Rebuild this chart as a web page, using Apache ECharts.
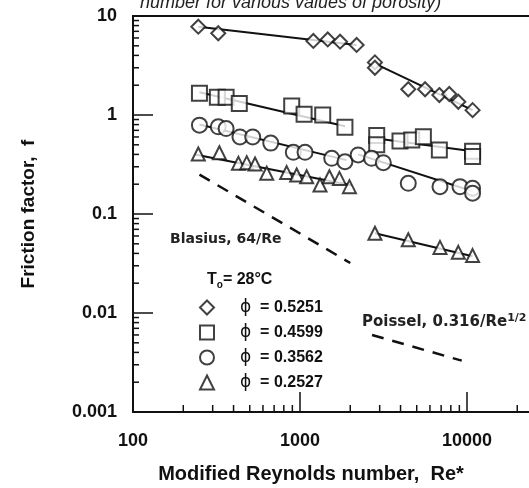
<!DOCTYPE html>
<html>
<head>
<meta charset="utf-8">
<script src="https://cdn.jsdelivr.net/npm/echarts@6/dist/echarts.min.js"></script>
<style>html,body{margin:0;padding:0;background:#fff;}#c{width:529px;height:488px;}</style>
</head>
<body>
<div id="c"></div>
<script>
// ---- tick labels ----
const xTickLabels = ['100', '1000', '10000'];
const yTickLabels = ['0.001', '0.01', '0.1', '1', '10'];
// minor tick multipliers inside each decade
const minorMult = [2, 3, 4, 5, 6, 7, 8, 9];
const xDecades = [100, 1000, 10000];
const yDecades = [0.001, 0.01, 0.1, 1];

// ---- legend / series names ----
const seriesNames = ['ϕ = 0.5251', 'ϕ = 0.4599', 'ϕ = 0.3562', 'ϕ = 0.2527'];

// ---- measured data (Re*, f) ----
const reD1 = [246, 324, 1202, 1466, 1738, 2183];
const fD1  = [7.8, 6.7, 5.6, 5.8, 5.5, 5.1];
const reD2 = [2810, 2810, 4450, 5610, 6830, 7830, 8870, 10800];
const fD2  = [3.4, 3.0, 1.82, 1.82, 1.59, 1.63, 1.36, 1.12];

const reS1 = [250, 320, 361, 433, 892, 1058, 1368, 1858];
const fS1  = [1.66, 1.51, 1.51, 1.31, 1.23, 1.02, 1.0, 0.75];
const reS2 = [2880, 2880, 3970, 4670, 5480, 6830, 10800, 10800];
const fS2  = [0.62, 0.5, 0.546, 0.558, 0.604, 0.443, 0.43, 0.38];

const reC1 = [250, 324, 361, 437, 521, 668, 912, 1072, 1549, 1858];
const fC1  = [0.79, 0.76, 0.73, 0.60, 0.60, 0.52, 0.42, 0.42, 0.365, 0.337];
const reC2 = [2230, 2683, 3155, 4450, 6890, 9080, 10800, 10800];
const fC2  = [0.395, 0.365, 0.33, 0.204, 0.189, 0.189, 0.182, 0.162];

const reT1 = [246, 329, 428, 480, 538, 632, 832, 955, 1096, 1318, 1500, 1722, 1977];
const fT1  = [0.404, 0.416, 0.325, 0.33, 0.32, 0.258, 0.262, 0.248, 0.238, 0.196, 0.238, 0.229, 0.189];
const reT2 = [2810, 4450, 6890, 8870, 10800];
const fT2  = [0.064, 0.055, 0.046, 0.041, 0.038];

// ---- fitted lines (end points) ----
const fitD1 = [[246, 7.8], [2180, 5.1]];
const fitD2 = [[2810, 3.3], [10800, 1.12]];
const fitS1 = [[250, 1.7], [1860, 0.77]];
const fitS2 = [[2880, 0.58], [10800, 0.43]];
const fitC1 = [[250, 0.8], [1900, 0.35]];
const fitC2 = [[2230, 0.40], [10800, 0.17]];
const fitT1 = [[235, 0.40], [2040, 0.195]];
const fitT2 = [[2810, 0.064], [10800, 0.0375]];

// ---- theoretical correlations (end points) ----
const blasiusRe = [250, 2000];
const blasiusF  = [0.25, 0.032];
const poiseRe = [2700, 9300];
const poiseF  = [0.0060, 0.0033];

const zip = (a, b) => a.map((v, i) => [v, b[i]]);

const xMinor = [];
xDecades.forEach(d => minorMult.forEach(m => xMinor.push(d * m)));
const yMinor = [];
yDecades.forEach(d => minorMult.forEach(m => yMinor.push(d * m)));

const chart = echarts.init(document.getElementById('c'), null, {renderer: 'canvas'});

const markStyle = {color: '#111', borderColor: '#111', borderWidth: 1.6};
function scatter(name, sym, size, re, f) {
  return {name, type: 'scatter', symbol: sym, symbolSize: size, data: zip(re, f),
    itemStyle: markStyle, z: 4, silent: true};
}
function fitLine(d) {
  return {type: 'line', data: d, symbol: 'none', lineStyle: {color: '#111', width: 2}, z: 3, silent: true};
}
function dashLine(re, f) {
  return {type: 'line', data: zip(re, f), symbol: 'none',
    lineStyle: {color: '#111', width: 2.5, type: [12, 9]}, z: 3, silent: true};
}
// minor ticks drawn through the axes' own log scales
function minorTicks(vals, isX, len) {
  return {
    type: 'custom', silent: true, z: 5, clip: false,
    data: vals.map(v => [v]),
    renderItem: (params, api) => {
      const v = api.value(0);
      const p = isX ? api.coord([v, 0.001]) : api.coord([100, v]);
      const shape = isX ? {x1: p[0], y1: p[1], x2: p[0], y2: p[1] - len}
                        : {x1: p[0], y1: p[1], x2: p[0] + len, y2: p[1]};
      return {type: 'line', shape, style: {stroke: '#111', lineWidth: 1.5}};
    },
    encode: isX ? {x: 0} : {y: 0}
  };
}

const fontMain = 'Liberation Sans, Arial, sans-serif';

const option = {
  animation: false,
  backgroundColor: '#fff',
  grid: {left: 133, top: 16, width: 501, height: 396, outerBoundsMode: 'none', containLabel: false,
    show: true, borderColor: '#111', borderWidth: 2, backgroundColor: 'transparent'},
  xAxis: {
    type: 'log', logBase: 10, min: 100, max: 100000,
    axisLine: {lineStyle: {color: '#111', width: 2}},
    axisTick: {inside: true, length: 20, lineStyle: {color: '#111', width: 1.5}},
    minorTick: {show: false},
    axisLabel: {margin: 20, fontFamily: fontMain, fontWeight: 'bold', fontSize: 18, color: '#111',
      formatter: v => { const i = Math.round(Math.log10(v)) - 2; return xTickLabels[i] || ''; }},
    splitLine: {show: false}
  },
  yAxis: {
    type: 'log', logBase: 10, min: 0.001, max: 10,
    name: 'Friction factor,  f', nameLocation: 'middle', nameGap: 95,
    nameTextStyle: {fontFamily: fontMain, fontWeight: 'bold', fontSize: 19, color: '#111'},
    axisLine: {lineStyle: {color: '#111', width: 2}},
    axisTick: {inside: true, length: 20, lineStyle: {color: '#111', width: 1.5}},
    minorTick: {show: false},
    axisLabel: {margin: 16, fontFamily: fontMain, fontWeight: 'bold', fontSize: 18, color: '#111',
      formatter: v => { const i = Math.round(Math.log10(v)) + 3; return yTickLabels[i] || ''; }},
    splitLine: {show: false}
  },
  legend: {
    orient: 'vertical', left: 194, top: 294, itemWidth: 14, itemHeight: 14, itemGap: 8,
    data: seriesNames, selectedMode: false,
    textStyle: {color: '#111', fontFamily: fontMain, fontWeight: 'bold', fontSize: 16, lineHeight: 14,
      rich: {g: {width: 21, lineHeight: 14}, p: {fontFamily: 'DejaVu Sans', fontSize: 17, fontWeight: 'normal', color: '#111', lineHeight: 14},
             t: {fontFamily: fontMain, fontWeight: 'bold', fontSize: 16, color: '#111', lineHeight: 14}}},
    formatter: n => '{g|}{p|' + n.slice(0, 1) + '}{t|  ' + n.slice(2) + '}'
  },
  graphic: [
    {type: 'text', left: 140, top: -6, style: {text: 'number for various values of porosity)', font: 'italic 18px Liberation Sans, Arial, sans-serif', fill: '#222'}},
    {type: 'text', x: 311, y: 474, style: {text: 'Modified Reynolds number,  Re*', font: 'bold 20px Liberation Sans, Arial, sans-serif', fill: '#111', align: 'center', verticalAlign: 'middle'}},
    {type: 'text', left: 170, top: 232, style: {text: 'Blasius, 64/Re', font: 'bold 14px DejaVu Sans, sans-serif', fill: '#222'}},
    {type: 'text', left: 362, top: 313, style: {text: 'Poissel, 0.316/Re{s|1/2}', font: 'bold 15px DejaVu Sans, sans-serif', fill: '#222',
      rich: {s: {font: 'bold 11px DejaVu Sans, sans-serif', verticalAlign: 'top', padding: [0, 0, 8, 0]}}}},
    {type: 'text', left: 207, top: 272, style: {text: 'T{s|o}= 28°C', font: 'bold 16px Liberation Sans, Arial, sans-serif', fill: '#111',
      rich: {s: {font: 'bold 10px Liberation Sans, Arial, sans-serif', padding: [10, 0, 0, 0]}}}}
  ],
  series: [
    scatter(seriesNames[0], 'emptyDiamond', 14, reD1.concat(reD2), fD1.concat(fD2)),
    scatter(seriesNames[1], 'emptyRect', 15, reS1.concat(reS2), fS1.concat(fS2)),
    scatter(seriesNames[2], 'emptyCircle', 15, reC1.concat(reC2), fC1.concat(fC2)),
    scatter(seriesNames[3], 'emptyTriangle', 13, reT1.concat(reT2), fT1.concat(fT2)),
    fitLine(fitD1), fitLine(fitD2), fitLine(fitS1), fitLine(fitS2),
    fitLine(fitC1), fitLine(fitC2), fitLine(fitT1), fitLine(fitT2),
    dashLine(blasiusRe, blasiusF), dashLine(poiseRe, poiseF),
    minorTicks(xMinor, true, 7), minorTicks(yMinor, false, 6)
  ]
};
chart.setOption(option);
</script>
</body>
</html>
